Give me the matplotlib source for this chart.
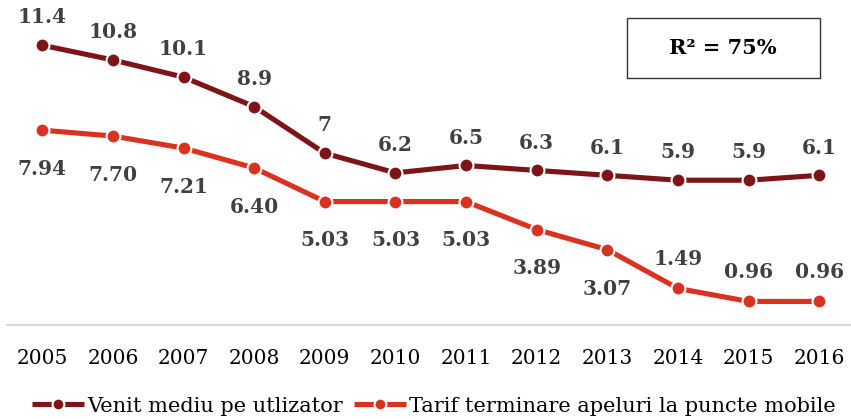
import matplotlib.pyplot as plt
from matplotlib.lines import Line2D
from matplotlib.patches import Rectangle

years = ["2005", "2006", "2007", "2008", "2009", "2010",
         "2011", "2012", "2013", "2014", "2015", "2016"]
venit = [11.4, 10.8, 10.1, 8.9, 7, 6.2, 6.5, 6.3, 6.1, 5.9, 5.9, 6.1]
tarif = [7.94, 7.70, 7.21, 6.40, 5.03, 5.03, 5.03, 3.89, 3.07, 1.49, 0.96, 0.96]
venit_labels = ["11.4", "10.8", "10.1", "8.9", "7", "6.2", "6.5", "6.3", "6.1", "5.9", "5.9", "6.1"]
tarif_labels = ["7.94", "7.70", "7.21", "6.40", "5.03", "5.03", "5.03", "3.89", "3.07", "1.49", "0.96", "0.96"]
tarif_above = [False] * 9 + [True] * 3

dark = "#7d1518"
red = "#d93220"
label_col = "#404040"
serif = "DejaVu Serif"

fig = plt.figure(figsize=(8.51, 4.19), dpi=100)
ax = fig.add_axes([7 / 851, 1 - 325 / 419, 844 / 851, 319 / 419])
x = range(len(years))

style = dict(lw=3.7, marker="o", ms=10, mec="white", mew=1.5, solid_capstyle="butt")
ax.plot(x, venit, color=dark, zorder=3, **style)
ax.plot(x, tarif, color=red, zorder=3, **style)

# value labels: dark series above, red series below (last three above)
for i, (v, lab) in enumerate(zip(venit, venit_labels)):
    ax.annotate(lab, (i, v), xytext=(0, 20), textcoords="offset points",
                ha="center", va="center", fontsize=14.5, fontweight="bold",
                color=label_col, family=serif)
for i, (v, lab, up) in enumerate(zip(tarif, tarif_labels, tarif_above)):
    ax.annotate(lab, (i, v), xytext=(0, 21 if up else -28), textcoords="offset points",
                ha="center", va="center", fontsize=14.5, fontweight="bold",
                color=label_col, family=serif)

ax.set_xlim(-0.5, 11.45)
ax.set_ylim(0, 13)
ax.set_xticks(list(x))
ax.set_xticklabels(years, family=serif, fontsize=14.5)
ax.tick_params(axis="x", length=0, pad=17)
ax.set_yticks([])
for s in ["top", "right", "left"]:
    ax.spines[s].set_visible(False)
ax.spines["bottom"].set_color("#d9d9d9")
ax.spines["bottom"].set_linewidth(1.5)

fig.add_artist(Rectangle((627 / 851, 1 - 78 / 419), 193 / 851, 60 / 419,
                         transform=fig.transFigure, fc="white", ec="#333333", lw=1))
fig.text(723 / 851, 1 - 48 / 419, "R² = 75%", ha="center", va="center",
         fontsize=15, fontweight="bold", family=serif)

handles = [Line2D([], [], color=dark, **style), Line2D([], [], color=red, **style)]
fig.legend(handles, ["Venit mediu pe utlizator", "Tarif terminare apeluri la puncte mobile"],
           loc="center", bbox_to_anchor=(0.51, 1 - 406 / 419), ncol=2, frameon=False,
           prop=dict(family=serif, size=15), handlelength=2.5, handletextpad=0.15,
           columnspacing=0.5, markerscale=0.85)

fig.savefig("out.png", dpi=100)
